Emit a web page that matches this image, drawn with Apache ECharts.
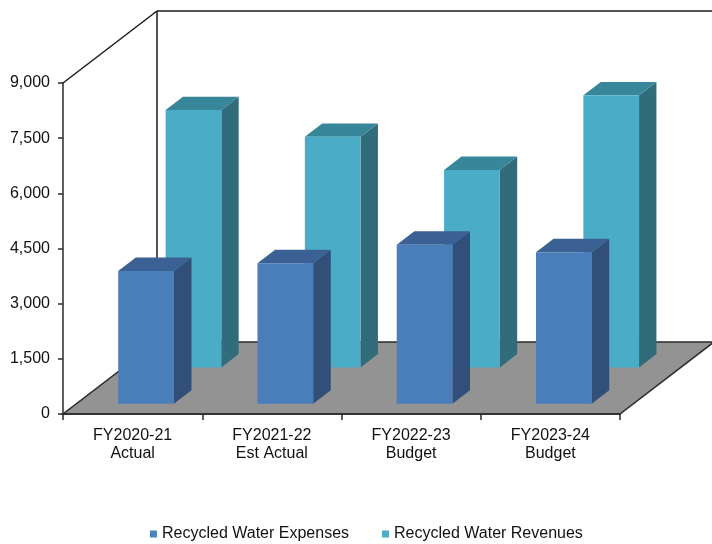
<!DOCTYPE html>
<html>
<head>
<meta charset="utf-8">
<script src="https://cdn.jsdelivr.net/npm/echarts@6/dist/echarts.min.js"></script>
<style>
html,body{margin:0;padding:0;background:#fff;}
#chart{width:712px;height:544px;}
</style>
</head>
<body>
<div id="chart"></div>
<script>
const categories = ['FY2020-21\nActual', 'FY2021-22\nEst Actual', 'FY2022-23\nBudget', 'FY2023-24\nBudget'];
const expenses = [3610, 3820, 4320, 4120];
const revenues = [7000, 6270, 5370, 7400];
const seriesNames = ['Recycled Water Expenses', 'Recycled Water Revenues'];
const yMin = 0, yMax = 9000, yStep = 1500;

// 3D look parameters (pixel depth vector of the floor)
const DX = 94, DY = -72;
const FONT = "'Liberation Sans', Arial, sans-serif";

function frameItem(params, api) {
  if (params.dataIndex !== 0) return null;
  const band = api.size([1, 0])[0];
  const c0 = api.coord([0, yMin]);
  const left = c0[0] - band / 2;
  const right = left + categories.length * band;
  const bottom = c0[1];
  const topY = api.coord([0, yMax])[1];
  const lineStyle = { stroke: '#1a1a1a', lineWidth: 1.5, fill: null };
  return {
    type: 'group',
    children: [
      { type: 'line', shape: { x1: left, y1: topY, x2: left + DX, y2: topY + DY }, style: lineStyle },
      { type: 'line', shape: { x1: left + DX, y1: topY + DY, x2: left + DX, y2: bottom + DY }, style: lineStyle },
      { type: 'line', shape: { x1: left + DX, y1: topY + DY, x2: right + DX + 40, y2: topY + DY }, style: lineStyle },
      { type: 'polygon', shape: { points: [[left, bottom], [right, bottom], [right + DX, bottom + DY], [left + DX, bottom + DY]] },
        style: { fill: '#939393', stroke: '#2a2a2a', lineWidth: 1.5 } }
    ]
  };
}

function barRenderer(f0, f1, colors) {
  return function (params, api) {
    const idx = api.value(0);
    const val = api.value(1);
    const band = api.size([1, 0])[0];
    const base = api.coord([idx, yMin]);
    const top = api.coord([idx, val]);
    const w = band * 0.4;
    const x0 = base[0] - w / 2 + f0 * DX;
    const x1 = x0 + w;
    const yb = base[1] + f0 * DY;
    const yt = top[1] + f0 * DY;
    const ddx = (f1 - f0) * DX, ddy = (f1 - f0) * DY;
    return {
      type: 'group',
      children: [
        { type: 'polygon', shape: { points: [[x1, yt], [x1 + ddx, yt + ddy], [x1 + ddx, yb + ddy], [x1, yb]] },
          style: { fill: colors.side } },
        { type: 'polygon', shape: { points: [[x0, yt], [x1, yt], [x1 + ddx, yt + ddy], [x0 + ddx, yt + ddy]] },
          style: { fill: colors.top } },
        { type: 'rect', shape: { x: x0, y: yt, width: w, height: yb - yt },
          style: { fill: colors.front } }
      ]
    };
  };
}

const chart = echarts.init(document.getElementById('chart'), null, { renderer: 'canvas' });
chart.setOption({
  animation: false,
  backgroundColor: '#fff',
  textStyle: { fontFamily: FONT },
  grid: { left: 63, right: 92, top: 83, bottom: 130 },
  legend: {
    data: seriesNames,
    left: 150,
    top: 526,
    padding: 0,
    itemWidth: 7,
    itemHeight: 7,
    itemGap: 33,
    icon: 'rect',
    textStyle: { fontFamily: FONT, fontSize: 16, color: '#111' }
  },
  xAxis: {
    type: 'category',
    data: categories,
    z: 10,
    axisLine: { lineStyle: { color: '#2a2a2a', width: 1.5 } },
    axisTick: { show: true, length: 6, lineStyle: { color: '#2a2a2a', width: 1.5 } },
    axisLabel: { fontFamily: FONT, fontSize: 16, color: '#111', margin: 13, lineHeight: 18 },
    splitLine: { show: false }
  },
  yAxis: {
    type: 'value',
    min: yMin, max: yMax, interval: yStep,
    axisLine: { show: true, lineStyle: { color: '#2a2a2a', width: 1.5 } },
    axisTick: { show: true, length: 5, lineStyle: { color: '#2a2a2a', width: 1.5 } },
    axisLabel: { fontFamily: FONT, fontSize: 16, color: '#111', margin: 13,
      formatter: v => v.toLocaleString('en-US') },
    splitLine: { show: false }
  },
  series: [
    {
      type: 'custom', name: '__frame', silent: true, z: 1,
      renderItem: frameItem,
      data: [[0, 0]],
      encode: { x: 0, y: 1 }
    },
    {
      type: 'custom', name: seriesNames[1], z: 2,
      itemStyle: { color: '#4bacc6' },
      renderItem: barRenderer(0.647, 0.832, { front: '#4aacc7', side: '#306c7a', top: '#388699' }),
      data: revenues.map((v, i) => [i, v]),
      encode: { x: 0, y: 1 }
    },
    {
      type: 'custom', name: seriesNames[0], z: 3,
      itemStyle: { color: '#4f81bd' },
      renderItem: barRenderer(0.143, 0.33, { front: '#4a7ebb', side: '#314f79', top: '#3b6194' }),
      data: expenses.map((v, i) => [i, v]),
      encode: { x: 0, y: 1 }
    }
  ]
});
</script>
</body>
</html>
